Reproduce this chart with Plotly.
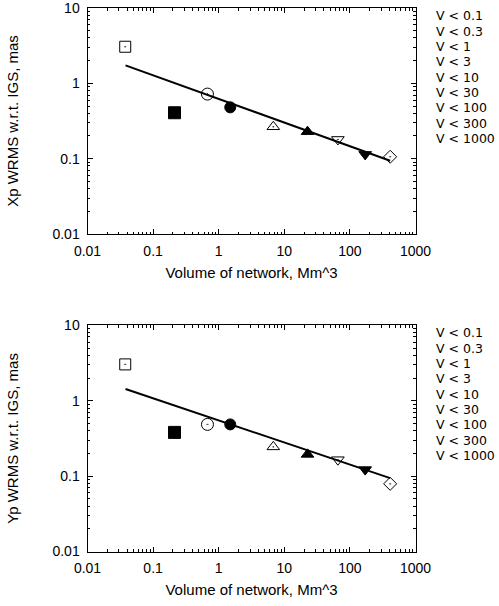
import plotly.graph_objects as go

# ---- data ----
volume_bins = ["V < 0.1", "V < 0.3", "V < 1", "V < 3", "V < 10",
               "V < 30", "V < 100", "V < 300", "V < 1000"]
volume = [0.0376, 0.212, 0.674, 1.5, 6.8, 22.6, 65.6, 171, 411]
xp_wrms = [3.06, 0.407, 0.72, 0.48, 0.265, 0.228, 0.18, 0.114, 0.106]
yp_wrms = [3.03, 0.38, 0.485, 0.485, 0.244, 0.194, 0.165, 0.122, 0.079]
fit_volume = [0.038, 411]
xp_fit = [1.73, 0.094]
yp_fit = [1.43, 0.094]

x_ticks = [0.01, 0.1, 1, 10, 100, 1000]
x_ticklabels = ["0.01", "0.1", "1", "10", "100", "1000"]
y_ticks = [0.01, 0.1, 1, 10]
y_ticklabels = ["0.01", "0.1", "1", "10"]

# ---- style ----
symbols = ["square-open-dot", "square", "circle-open-dot", "circle",
           "triangle-up-open-dot", "triangle-up", "triangle-down-open-dot",
           "triangle-down", "diamond-open-dot"]
sizes = [11, 12, 12, 11, 11, 11, 11, 11, 10]
FONT = "Liberation Sans, Arial, Helvetica, sans-serif"
LEG_FONT = "DejaVu Sans, sans-serif"

fig = go.Figure()

for (yvals, fity, xa, ya) in [(xp_wrms, xp_fit, "x", "y"), (yp_wrms, yp_fit, "x2", "y2")]:
    fig.add_trace(go.Scatter(x=fit_volume, y=fity, mode="lines",
                             line=dict(color="black", width=2),
                             xaxis=xa, yaxis=ya, showlegend=False, hoverinfo="skip"))
    for i, name in enumerate(volume_bins):
        fig.add_trace(go.Scatter(x=[volume[i]], y=[yvals[i]], mode="markers", name=name,
                                 marker=dict(symbol=symbols[i], size=sizes[i], color="black",
                                             line=dict(color="black", width=1)),
                                 xaxis=xa, yaxis=ya, showlegend=False))

W, H = 499, 606
x_dom = [87.5 / W, 415.5 / W]
top_dom = [1 - 234 / H, 1 - 8 / H]
bot_dom = [1 - 551.5 / H, 1 - 325.3 / H]

def xaxis(dom, anchor):
    return dict(type="log", domain=dom, anchor=anchor, range=[-2, 3],
                tickvals=x_ticks, ticktext=x_ticklabels,
                ticks="inside", ticklen=5, tickcolor="black", showline=True,
                linecolor="black", linewidth=1, mirror="allticks", showgrid=False,
                zeroline=False, tickfont=dict(family=FONT, size=14, color="black"),
                minor=dict(ticks="inside", ticklen=2.5, tickcolor="black",
                           dtick="D1", showgrid=False),
                title=dict(text="Volume of network, Mm^3",
                           font=dict(family=FONT, size=15, color="black"), standoff=9),
                ticklabelstandoff=4, ticklabeloverflow="allow", automargin=False)

def yaxis(dom, anchor, title):
    return dict(type="log", domain=dom, anchor=anchor, range=[-2, 1],
                tickvals=y_ticks, ticktext=y_ticklabels,
                ticks="inside", ticklen=5, tickcolor="black", showline=True,
                linecolor="black", linewidth=1, mirror="allticks", showgrid=False,
                zeroline=False, tickfont=dict(family=FONT, size=14, color="black"),
                minor=dict(ticks="inside", ticklen=2.5, tickcolor="black",
                           dtick="D1", showgrid=False),
                title=dict(text=title, font=dict(family=FONT, size=15, color="black"),
                           standoff=30),
                ticklabelstandoff=4, ticklabeloverflow="allow", automargin=False)

annotations = []
for top_px in (16, 332.7):
    for i, name in enumerate(volume_bins):
        annotations.append(dict(text=name, x=435 / W, y=1 - (top_px + 15.33 * i) / H,
                                xref="paper", yref="paper", xanchor="left", yanchor="middle",
                                showarrow=False, borderpad=0,
                                font=dict(family=LEG_FONT, size=12.5, color="black")))

fig.update_layout(
    width=W, height=H,
    margin=dict(l=0, r=0, t=0, b=0),
    paper_bgcolor="white", plot_bgcolor="white",
    xaxis=xaxis(x_dom, "y"),
    yaxis=yaxis(top_dom, "x", "Xp WRMS w.r.t. IGS, mas"),
    xaxis2=xaxis(x_dom, "y2"),
    yaxis2=yaxis(bot_dom, "x2", "Yp WRMS w.r.t. IGS, mas"),
    annotations=annotations,
    showlegend=False,
)

fig.write_html("out.html", config={"displayModeBar": False},
               post_script="document.body.style.margin='0';document.body.style.overflow='hidden';")
